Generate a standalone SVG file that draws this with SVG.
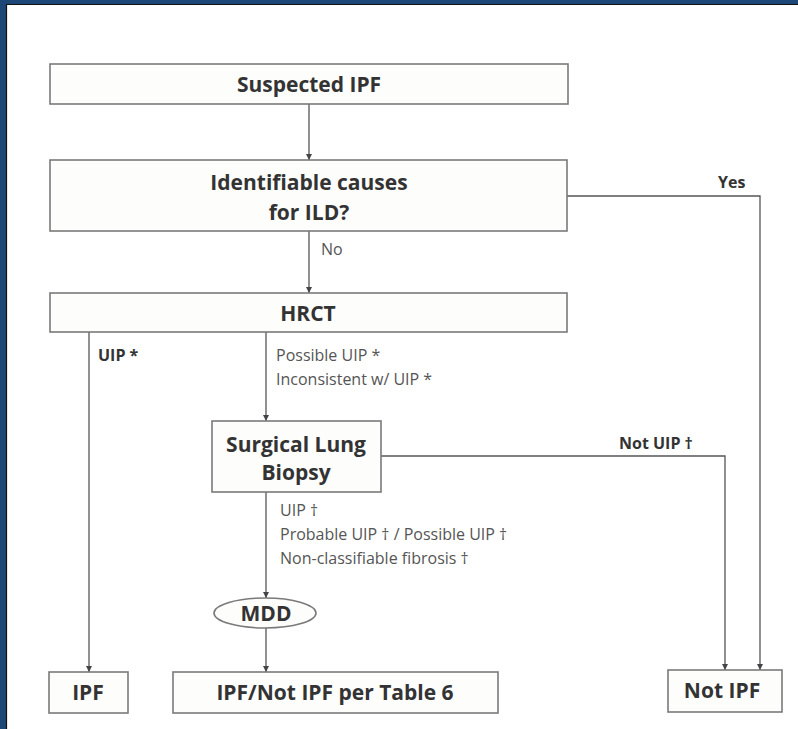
<svg xmlns="http://www.w3.org/2000/svg" width="798" height="729" viewBox="0 0 798 729">
<defs>
<marker id="ah" viewBox="0 0 10 10" refX="10" refY="5" markerWidth="6" markerHeight="6" orient="auto" markerUnits="userSpaceOnUse">
<path d="M0,0 L10,5 L0,10 z" fill="#444"/>
</marker>
<style>
.box{fill:#fdfdfc;stroke:#7a7a7a;stroke-width:1.6}
.t{font-family:"Open Sans","DejaVu Sans",sans-serif;font-weight:bold;fill:#333;text-anchor:middle;font-size:21px}
.lb{font-family:"Open Sans","DejaVu Sans",sans-serif;fill:#555;font-size:16px}
.lbb{font-family:"Open Sans","DejaVu Sans",sans-serif;fill:#333;font-size:16px;font-weight:bold}
.c{fill:none;stroke:#555;stroke-width:1.3}
</style>
</defs>
<rect x="0" y="0" width="798" height="729" fill="#ffffff"/>
<rect x="0" y="0" width="798" height="4" fill="#1d4776"/>
<rect x="0" y="0" width="6" height="729" fill="#1d4776"/>
<line x1="6" y1="4.5" x2="798" y2="4.5" stroke="#111" stroke-width="1.2"/>
<line x1="6.5" y1="4" x2="6.5" y2="729" stroke="#111" stroke-width="1.2"/>

<g id="connectors">
<line class="c" x1="309" y1="104" x2="309" y2="160" marker-end="url(#ah)"/>
<polyline class="c" points="567,196 760,196 760,670" marker-end="url(#ah)"/>
<line class="c" x1="309" y1="231" x2="309" y2="293" marker-end="url(#ah)"/>
<line class="c" x1="89" y1="332" x2="89" y2="672" marker-end="url(#ah)"/>
<line class="c" x1="266" y1="332" x2="266" y2="421" marker-end="url(#ah)"/>
<polyline class="c" points="381,456 725,456 725,670" marker-end="url(#ah)"/>
<line class="c" x1="266" y1="492" x2="266" y2="598" marker-end="url(#ah)"/>
<line class="c" x1="266" y1="628" x2="266" y2="672" marker-end="url(#ah)"/>
<text class="lbb" x="718" y="188">Yes</text>
<text class="lb" x="321" y="255">No</text>
<text class="lbb" x="98" y="361">UIP *</text>
<text class="lb" x="276" y="361">Possible UIP *</text>
<text class="lb" x="276" y="385">Inconsistent w/ UIP *</text>
<text class="lbb" x="619" y="449">Not UIP †</text>
<text class="lb" x="280" y="516">UIP †</text>
<text class="lb" x="280" y="540">Probable UIP † / Possible UIP †</text>
<text class="lb" x="280" y="564">Non-classifiable fibrosis †</text>
</g>

<g id="suspected">
<rect class="box" x="50" y="64" width="518" height="40"/>
<text class="t" x="309" y="92">Suspected IPF</text>
</g>
<g id="identifiable">
<rect class="box" x="50" y="160" width="517" height="71"/>
<text class="t" x="309" y="190">Identifiable causes</text>
<text class="t" x="309" y="220">for ILD?</text>
</g>
<g id="hrct">
<rect class="box" x="50" y="293" width="517" height="39"/>
<text class="t" x="308" y="321">HRCT</text>
</g>
<g id="biopsy">
<rect class="box" x="212" y="421" width="169" height="71"/>
<text class="t" x="296" y="452">Surgical Lung</text>
<text class="t" x="296" y="480">Biopsy</text>
</g>
<g id="mdd">
<ellipse class="box" cx="265" cy="613" rx="51" ry="15"/>
<text class="t" x="266" y="621">MDD</text>
</g>
<g id="ipf">
<rect class="box" x="49" y="672" width="79" height="41"/>
<text class="t" x="88" y="700">IPF</text>
</g>
<g id="perTable">
<rect class="box" x="173" y="672" width="325" height="41"/>
<text class="t" x="335" y="700">IPF/Not IPF per Table 6</text>
</g>
<g id="notipf">
<rect class="box" x="668" y="670" width="114" height="42"/>
<text class="t" x="722" y="698">Not IPF</text>
</g>
</svg>
